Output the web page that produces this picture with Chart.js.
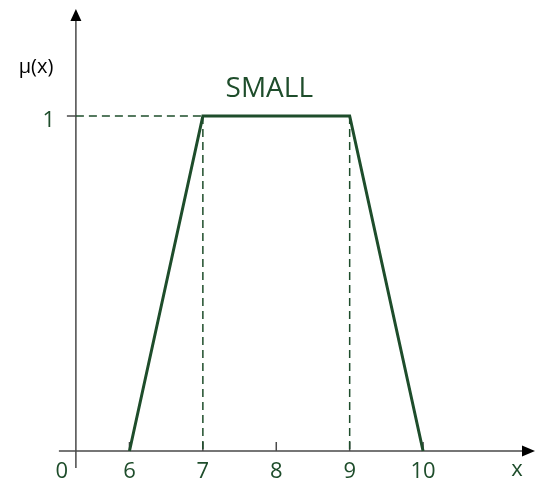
<!DOCTYPE html>
<html>
<head>
<meta charset="utf-8">
<script src="https://cdn.jsdelivr.net/npm/chart.js@4.4.1/dist/chart.umd.min.js"></script>
<style>
  body { margin: 0; background: #fff; }
  #wrap { width: 535px; height: 483px; }
</style>
</head>
<body>
<div id="wrap"><canvas id="mygraph" width="535" height="483"></canvas></div>
<script>
// trapezoid membership function "SMALL"
const xs = [6, 7, 9, 10];
const mu = [0, 1, 1, 0];
const xTicks = [6, 7, 8, 9, 10];
const xTickLabels = ["6", "7", "8", "9", "10"];
const yTicks = [1];
const setName = "SMALL";

const green = "#1e4d2b";
const axisColor = "#4a4a4a";
const font = "'Open Sans', 'Noto Sans', sans-serif";

// the axes cross a bit left of 6 (broken x axis, drawn as 0)
const xOrigin = 5.27;

const shape = xs.map((v, i) => ({ x: v, y: mu[i] }));

// dashed guides from the shoulders of the trapezoid
const tops = shape.filter(p => p.y === 1);
const guides = [
  [{ x: xOrigin, y: 1 }, { x: tops[0].x, y: 1 }],
  ...tops.map(p => [{ x: p.x, y: p.y }, { x: p.x, y: 0 }])
];

const datasets = guides.map(g => ({
  data: g,
  borderColor: green,
  borderWidth: 1.5,
  borderDash: [8, 5],
  pointRadius: 0,
  showLine: true,
  fill: false
}));
datasets.push({
  data: shape,
  borderColor: green,
  borderWidth: 3,
  pointRadius: 0,
  showLine: true,
  fill: false
});

const axesPlugin = {
  id: "axes",
  beforeDatasetsDraw(chart) {
    const ctx = chart.ctx;
    const sx = chart.scales.x, sy = chart.scales.y;
    const ox = sx.getPixelForValue(xOrigin);
    const oy = sy.getPixelForValue(0);
    ctx.save();
    ctx.strokeStyle = axisColor;
    ctx.lineWidth = 1.5;
    ctx.beginPath();
    // y axis
    ctx.moveTo(ox, oy + 17);
    ctx.lineTo(ox, 18);
    // x axis
    ctx.moveTo(ox - 17, oy);
    ctx.lineTo(525, oy);
    // ticks
    xTicks.forEach(v => {
      const px = sx.getPixelForValue(v);
      ctx.moveTo(px, oy);
      ctx.lineTo(px, oy - 9);
    });
    yTicks.forEach(v => {
      const py = sy.getPixelForValue(v);
      ctx.moveTo(ox - 9, py);
      ctx.lineTo(ox, py);
    });
    ctx.stroke();
    // arrow heads
    ctx.fillStyle = "#000";
    ctx.beginPath();
    ctx.moveTo(ox, 9);
    ctx.lineTo(ox - 5.5, 21);
    ctx.lineTo(ox + 5.5, 21);
    ctx.closePath();
    ctx.fill();
    ctx.beginPath();
    ctx.moveTo(535, oy);
    ctx.lineTo(522, oy - 5.5);
    ctx.lineTo(522, oy + 5.5);
    ctx.closePath();
    ctx.fill();
    ctx.restore();
  },
  afterDraw(chart) {
    const ctx = chart.ctx;
    const sx = chart.scales.x, sy = chart.scales.y;
    const ox = sx.getPixelForValue(xOrigin);
    const oy = sy.getPixelForValue(0);
    ctx.save();
    ctx.textAlign = "center";
    ctx.textBaseline = "middle";
    ctx.fillStyle = green;
    ctx.font = "22px " + font;
    ctx.fillText("0", ox - 14, oy + 21);
    xTicks.forEach((v, i) => {
      ctx.fillText(xTickLabels[i], sx.getPixelForValue(v), oy + 21);
    });
    ctx.fillText("x", 517, oy + 19);
    yTicks.forEach(v => {
      ctx.fillText(String(v), ox - 27, sy.getPixelForValue(v) + 5);
    });
    ctx.font = "28px " + font;
    ctx.fillText(setName, (sx.getPixelForValue(tops[0].x) + sx.getPixelForValue(tops[1].x)) / 2 - 7, sy.getPixelForValue(1) - 27);
    ctx.fillStyle = "#000";
    ctx.font = "20px " + font;
    ctx.fillText("μ(x)", 36, 67);
    ctx.restore();
  }
};

new Chart(document.getElementById("mygraph"), {
  type: "scatter",
  data: { datasets: datasets },
  options: {
    responsive: false,
    animation: false,
    layout: { padding: 0 },
    plugins: { legend: { display: false }, tooltip: { enabled: false } },
    scales: {
      x: { type: "linear", min: 4.236, max: 11.525, display: false },
      y: { type: "linear", min: -0.0955, max: 1.346, display: false }
    }
  },
  plugins: [axesPlugin]
});
</script>
</body>
</html>
